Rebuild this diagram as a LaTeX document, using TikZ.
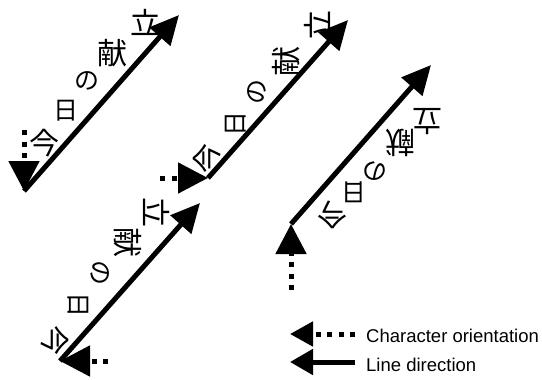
\documentclass[tikz,border=0pt]{standalone}
\usepackage{fontspec}
\setmainfont{Liberation Sans}
\newfontfamily\jp{Noto Sans CJK JP}
\usetikzlibrary{arrows.meta}
\begin{document}
\begin{tikzpicture}[x=1pt,y=-1pt,
  mainline/.style={line width=5pt, -{Triangle[length=29pt,width=27pt]}},
  dotline/.style={line width=5pt, dash pattern=on 5pt off 6.5pt, -{Triangle[length=30pt,width=30pt]}},
  legdots/.style={line width=5pt, dash pattern=on 5pt off 6.5pt, -{Triangle[length=23pt,width=24pt]}},
  legline/.style={line width=5pt, -{Triangle[length=23pt,width=25pt]}},
  big/.style={font=\jp\fontsize{30}{30}\selectfont, inner sep=0pt},
  small/.style={font=\jp\fontsize{25}{25}\selectfont, inner sep=0pt},
  lbl/.style={font=\fontsize{18.5}{20}\selectfont, inner sep=0pt, anchor=base west}]
\useasboundingbox (0,0) rectangle (542,380);
% diagram 1 (upright)
\coordinate (a1) at (24,191);
\coordinate (b1) at (179,15);
\coordinate (d1) at (24,130);
\draw[mainline] (a1) -- (b1);
\draw[dotline] (d1) -- (a1);
\node[big]   (c11) at (44,143) {今};
\node[small] (c12) at (66,111) {日};
\node[small] (c13) at (87,81)  {の};
\node[big]   (c14) at (112,53) {献};
\node[big]   (c15) at (145,22) {立};
% diagram 2 (rotated 90)
\coordinate (a2) at (208,178);
\coordinate (b2) at (348,20);
\coordinate (d2) at (160,178);
\draw[mainline] (a2) -- (b2);
\draw[dotline] (d2) -- (a2);
\node[big,rotate=90]   (c21) at (207,158) {今};
\node[small,rotate=90] (c22) at (236,124) {日};
\node[small,rotate=90] (c23) at (257,92)  {の};
\node[big,rotate=90]   (c24) at (286,61)  {献};
\node[big,rotate=90]   (c25) at (317,26)  {立};
% diagram 3 (rotated -90)
\coordinate (a3) at (60,361);
\coordinate (b3) at (200,203);
\coordinate (d3) at (108,361);
\draw[mainline] (a3) -- (b3);
\draw[dotline] (d3) -- (a3);
\node[big,rotate=-90]   (c31) at (55,340)  {今};
\node[small,rotate=-90] (c32) at (78,305)  {日};
\node[small,rotate=-90] (c33) at (100,273) {の};
\node[big,rotate=-90]   (c34) at (128,242) {献};
\node[big,rotate=-90]   (c35) at (157,212) {立};
% diagram 4 (rotated 180)
\coordinate (a4) at (291,224);
\coordinate (b4) at (431,65);
\coordinate (d4) at (291,290);
\draw[mainline] (a4) -- (b4);
\draw[dotline] (d4) -- (a4);
\node[big,rotate=180]   (c41) at (332,215) {今};
\node[small,rotate=180] (c42) at (354,192) {日};
\node[small,rotate=180] (c43) at (375,171) {の};
\node[big,rotate=180]   (c44) at (400,143) {献};
\node[big,rotate=180]   (c45) at (427,122) {立};
% legend
\coordinate (l1s) at (355,334);
\coordinate (l1e) at (290,334);
\coordinate (l2s) at (355,362);
\coordinate (l2e) at (290,362);
\draw[legdots] (l1s) -- (l1e);
\draw[legline] (l2s) -- (l2e);
\node[lbl] (t1) at (366,342.5) {Character orientation};
\node[lbl] (t2) at (366,371) {Line direction};
\end{tikzpicture}
\end{document}
